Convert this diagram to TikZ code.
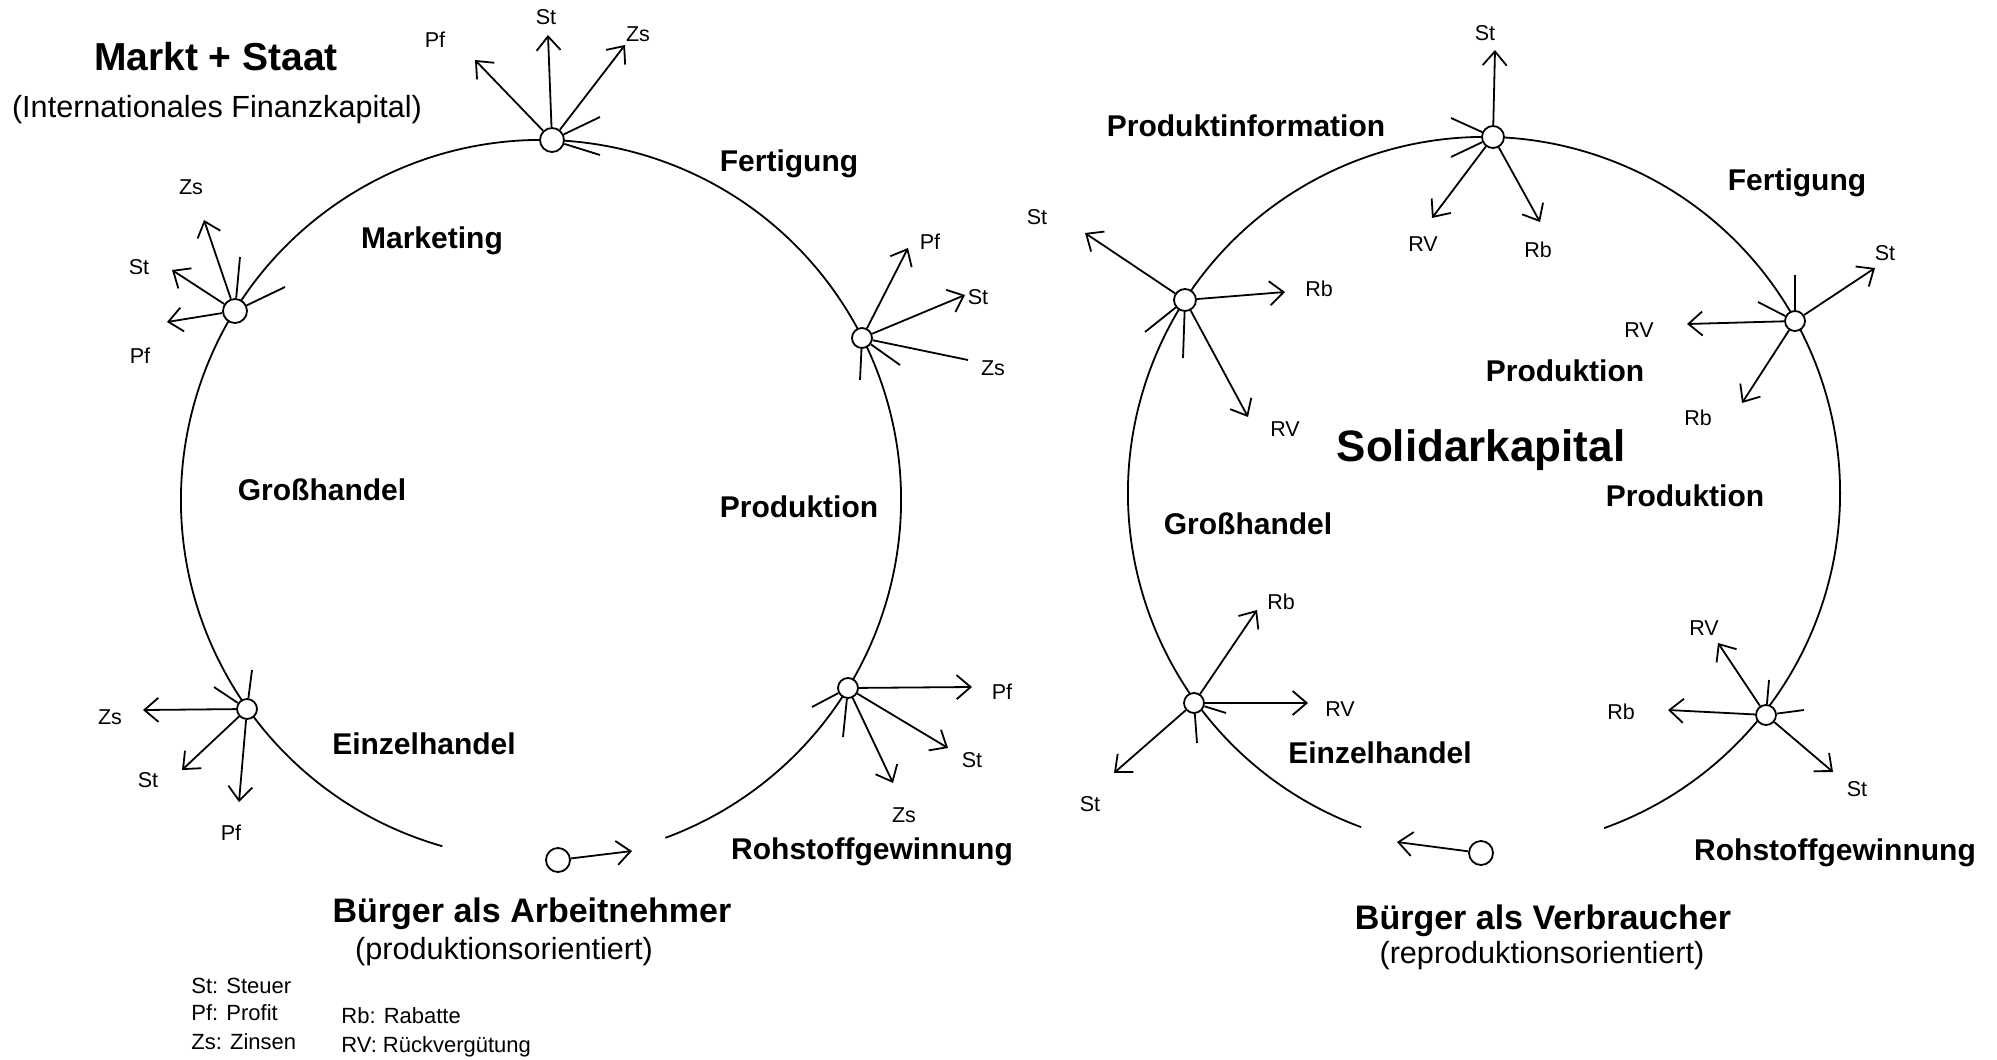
\documentclass[tikz,border=0pt]{standalone}
\usepackage{fontspec}
\setmainfont{Liberation Sans}
\usetikzlibrary{arrows.meta}
\begin{document}
\begin{tikzpicture}[x=0.5pt,y=-0.5pt,
  ring/.style={line width=0.9pt},
  flow/.style={line width=0.9pt,-{Straight Barb[length=7pt,width=12pt]}},
  stub/.style={line width=0.9pt},
  dot/.style={circle,draw,line width=0.9pt,fill=white,minimum size=10pt,inner sep=0pt},
  bigdot/.style={dot,minimum size=12pt},
  tag/.style={font=\fontsize{10.75pt}{12pt}\selectfont,inner sep=0pt},
  lbl/.style={font=\bfseries\fontsize{15pt}{18pt}\selectfont,inner sep=0pt},
  headline/.style={font=\bfseries\fontsize{22pt}{26pt}\selectfont,inner sep=0pt},
  citizen/.style={font=\bfseries\fontsize{17pt}{20pt}\selectfont,inner sep=0pt},
  paren/.style={font=\fontsize{15.3pt}{18pt}\selectfont,inner sep=0pt},
  legend/.style={font=\fontsize{11pt}{13pt}\selectfont,inner sep=0pt,anchor=west}]
\useasboundingbox[fill=white] (0,0) rectangle (1997,1060);

% ---------- rings ----------
\draw[ring] (541,500) ++(-105.9:180pt) arc[start angle=-105.9,end angle=-429.8,radius=180pt];
\draw[ring] (1484,493) ++(-110.2:178pt) arc[start angle=-110.2,end angle=-430.3,radius=178pt];

% ---------- left: nodes ----------
\node[bigdot] (LT)  at (552,140) {};
\node[bigdot] (LUL) at (235,311) {};
\node[dot] (LR)  at (862,338) {};
\node[dot] (LBL) at (247,709) {};
\node[dot] (LBR) at (848,688) {};
\node[bigdot] (CL) at (558,860) {};

% ---------- right: nodes ----------
\node[dot,minimum size=11pt] (RT)  at (1493,137) {};
\node[dot,minimum size=11pt] (RUL) at (1185,300) {};
\node[dot] (RUR) at (1795,321) {};
\node[dot] (RBL) at (1194,703) {};
\node[dot] (RBR) at (1766,715) {};
\node[bigdot] (CR) at (1481,853) {};

% ---------- arrow ends ----------
\coordinate (LTst) at (548,35);  \coordinate (LTpf) at (475,60);  \coordinate (LTzs) at (625,45);
\coordinate (LTa) at (600,117);  \coordinate (LTb) at (600,155);
\coordinate (LULzs) at (204,220); \coordinate (LULst) at (172,270); \coordinate (LULpf) at (167,322);
\coordinate (LULa) at (240,257); \coordinate (LULb) at (285,287);
\coordinate (LRpf) at (908,248); \coordinate (LRst) at (965,295); \coordinate (LRzs) at (968,360);
\coordinate (LRa) at (900,365);  \coordinate (LRb) at (860,380);
\coordinate (LBLzs) at (143,710); \coordinate (LBLst) at (182,770); \coordinate (LBLpf) at (239,802);
\coordinate (LBLa) at (214,687); \coordinate (LBLb) at (252,670);
\coordinate (LBRpf) at (972,687); \coordinate (LBRst) at (948,748); \coordinate (LBRzs) at (893,783);
\coordinate (LBRa) at (812,707); \coordinate (LBRb) at (843,737);
\coordinate (CLe) at (632,851);

\coordinate (RTst) at (1495,50); \coordinate (RTrv) at (1432,218); \coordinate (RTrb) at (1540,222);
\coordinate (RTa) at (1451,118); \coordinate (RTb) at (1451,157);
\coordinate (RULst) at (1085,233); \coordinate (RULrb) at (1285,292); \coordinate (RULrv) at (1248,417);
\coordinate (RULa) at (1145,332); \coordinate (RULb) at (1183,358);
\coordinate (RURst) at (1875,268); \coordinate (RURrv) at (1687,324); \coordinate (RURrb) at (1742,403);
\coordinate (RURa) at (1795,275); \coordinate (RURb) at (1758,302);
\coordinate (RBLrb) at (1257,610); \coordinate (RBLrv) at (1308,703); \coordinate (RBLst) at (1114,773);
\coordinate (RBLa) at (1197,743); \coordinate (RBLb) at (1226,713);
\coordinate (RBRrv) at (1718,643); \coordinate (RBRrb) at (1668,710); \coordinate (RBRst) at (1833,772);
\coordinate (RBRa) at (1769,680); \coordinate (RBRb) at (1804,710);
\coordinate (CRe) at (1397,842);

% ---------- left: connectors ----------
\draw[flow] (LT) -- (LTst); \draw[flow] (LT) -- (LTpf); \draw[flow] (LT) -- (LTzs);
\draw[stub] (LT) -- (LTa); \draw[stub] (LT) -- (LTb);
\draw[flow] (LUL) -- (LULzs); \draw[flow] (LUL) -- (LULst); \draw[flow] (LUL) -- (LULpf);
\draw[stub] (LUL) -- (LULa); \draw[stub] (LUL) -- (LULb);
\draw[flow] (LR) -- (LRpf); \draw[flow] (LR) -- (LRst); \draw[stub] (LR) -- (LRzs);
\draw[stub] (LR) -- (LRa); \draw[stub] (LR) -- (LRb);
\draw[flow] (LBL) -- (LBLzs); \draw[flow] (LBL) -- (LBLst); \draw[flow] (LBL) -- (LBLpf);
\draw[stub] (LBL) -- (LBLa); \draw[stub] (LBL) -- (LBLb);
\draw[flow] (LBR) -- (LBRpf); \draw[flow] (LBR) -- (LBRst); \draw[flow] (LBR) -- (LBRzs);
\draw[stub] (LBR) -- (LBRa); \draw[stub] (LBR) -- (LBRb);
\draw[flow] (CL) -- (CLe);

% ---------- right: connectors ----------
\draw[flow] (RT) -- (RTst); \draw[flow] (RT) -- (RTrv); \draw[flow] (RT) -- (RTrb);
\draw[stub] (RT) -- (RTa); \draw[stub] (RT) -- (RTb);
\draw[flow] (RUL) -- (RULst); \draw[flow] (RUL) -- (RULrb); \draw[flow] (RUL) -- (RULrv);
\draw[stub] (RUL) -- (RULa); \draw[stub] (RUL) -- (RULb);
\draw[flow] (RUR) -- (RURst); \draw[flow] (RUR) -- (RURrv); \draw[flow] (RUR) -- (RURrb);
\draw[stub] (RUR) -- (RURa); \draw[stub] (RUR) -- (RURb);
\draw[flow] (RBL) -- (RBLrb); \draw[flow] (RBL) -- (RBLrv); \draw[flow] (RBL) -- (RBLst);
\draw[stub] (RBL) -- (RBLa); \draw[stub] (RBL) -- (RBLb);
\draw[flow] (RBR) -- (RBRrv); \draw[flow] (RBR) -- (RBRrb); \draw[flow] (RBR) -- (RBRst);
\draw[stub] (RBR) -- (RBRa); \draw[stub] (RBR) -- (RBRb);
\draw[flow] (CR) -- (CRe);

% ---------- small tags ----------
\node[tag] (tLTst) at (546,17) {St}; \node[tag] (tLTpf) at (435,40) {Pf}; \node[tag] (tLTzs) at (638,34) {Zs};
\node[tag] (tLULzs) at (191,187) {Zs}; \node[tag] (tLULst) at (139,267) {St}; \node[tag] (tLULpf) at (140,356) {Pf};
\node[tag] (tLRpf) at (930,242) {Pf}; \node[tag] (tLRst) at (978,297) {St}; \node[tag] (tLRzs) at (993,368) {Zs};
\node[tag] (tLBLzs) at (110,717) {Zs}; \node[tag] (tLBLst) at (148,780) {St}; \node[tag] (tLBLpf) at (231,833) {Pf};
\node[tag] (tLBRpf) at (1002,692) {Pf}; \node[tag] (tLBRst) at (972,760) {St}; \node[tag] (tLBRzs) at (904,815) {Zs};

\node[tag] (tRTst) at (1485,33) {St}; \node[tag] (tRTrv) at (1423,244) {RV}; \node[tag] (tRTrb) at (1538,250) {Rb};
\node[tag] (tRULst) at (1037,217) {St}; \node[tag] (tRULrb) at (1319,289) {Rb}; \node[tag] (tRULrv) at (1285,429) {RV};
\node[tag] (tRURst) at (1885,253) {St}; \node[tag] (tRURrv) at (1639,330) {RV}; \node[tag] (tRURrb) at (1698,418) {Rb};
\node[tag] (tRBLrb) at (1281,602) {Rb}; \node[tag] (tRBLrv) at (1340,709) {RV}; \node[tag] (tRBLst) at (1090,804) {St};
\node[tag] (tRBRrv) at (1704,628) {RV}; \node[tag] (tRBRrb) at (1621,712) {Rb}; \node[tag] (tRBRst) at (1857,789) {St};

% ---------- left: texts ----------
\node[headline,font=\bfseries\fontsize{19.5pt}{23pt}\selectfont] (mst) at (216,57) {Markt + Staat};
\node[paren] (ifk) at (217,110) {(Internationales Finanzkapital)};
\node[lbl] (lfert) at (789,164) {Fertigung};
\node[lbl] (lmark) at (432,241) {Marketing};
\node[lbl] (lgross) at (322,490) {Großhandel};
\node[lbl] (lprod) at (799,507) {Produktion};
\node[lbl] (leinz) at (424,744) {Einzelhandel};
\node[lbl] (lroh) at (872,852) {Rohstoffgewinnung};
\node[citizen] (larb) at (532,914) {Bürger als Arbeitnehmer};
\node[paren] (lprodor) at (504,952) {(produktionsorientiert)};
\node[legend] (lg1) at (191,986) {St: Steuer};
\node[legend] (lg2) at (191,1013) {Pf: Profit};
\node[legend] (lg3) at (191,1042) {Zs: Zinsen};
\node[legend] (lg4) at (341,1016) {Rb: Rabatte};
\node[legend] (lg5) at (341,1047) {RV: Rückvergütung};

% ---------- right: texts ----------
\node[lbl] (rpinf) at (1246,126) {Produktinformation};
\node[lbl] (rfert) at (1797,183) {Fertigung};
\node[lbl] (rprod1) at (1565,371) {Produktion};
\node[headline] (rsol) at (1481,450) {Solidarkapital};
\node[lbl] (rprod2) at (1685,496) {Produktion};
\node[lbl] (rgross) at (1248,524) {Großhandel};
\node[lbl] (reinz) at (1380,753) {Einzelhandel};
\node[lbl] (rroh) at (1835,853) {Rohstoffgewinnung};
\node[citizen] (rverb) at (1543,921) {Bürger als Verbraucher};
\node[paren] (rrepro) at (1542,956) {(reproduktionsorientiert)};
\end{tikzpicture}
\end{document}
